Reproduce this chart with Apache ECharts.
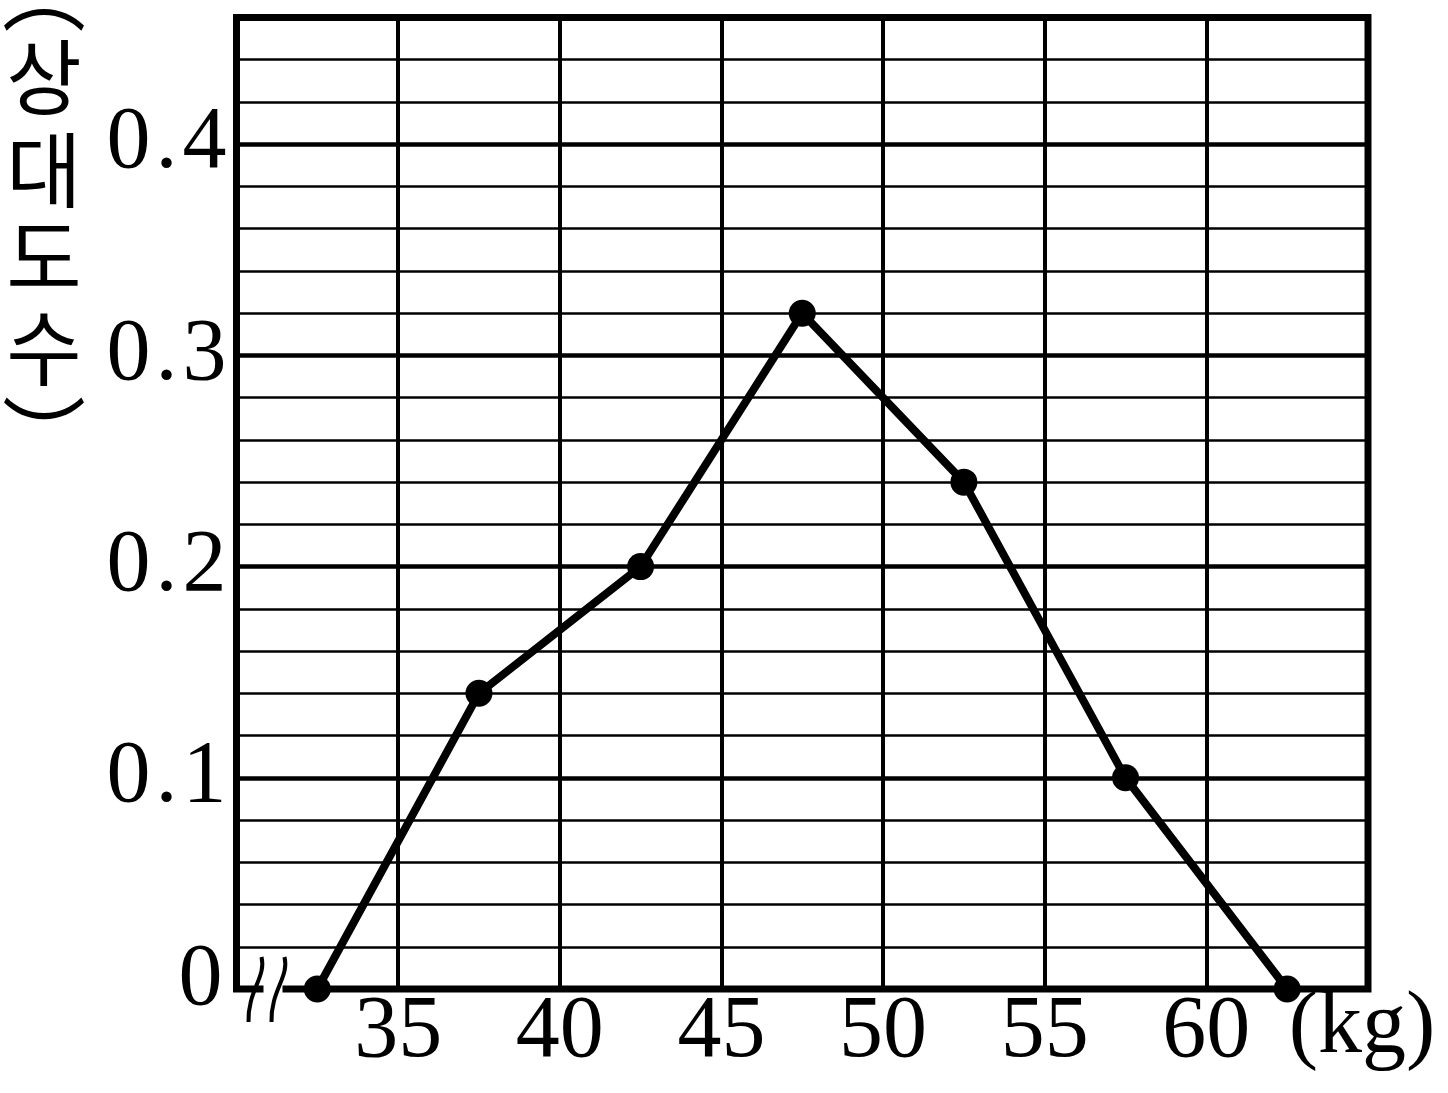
<!DOCTYPE html>
<html><head><meta charset="utf-8">
<style>html,body{margin:0;padding:0;background:#fff}#c{width:1448px;height:1093px}</style>
<script src="https://cdn.jsdelivr.net/npm/echarts@6/dist/echarts.min.js"></script>
</head><body><div id="c"></div>
<script>
// ---- data ----
const classMarks = [32.5, 37.5, 42.5, 47.5, 52.5, 57.5, 62.5];
const relFreq = [0, 0.14, 0.20, 0.32, 0.24, 0.10, 0];
const xTickLabels = [35, 40, 45, 50, 55, 60];
const yTickLabels = ['0', '0.1', '0.2', '0.3', '0.4'];
const yTitleChars = ['︵', '상', '대', '도', '수', '︶'];
const xUnit = '(kg)';

const serif = '"Liberation Serif", "DejaVu Serif", serif';
const cjk = '"Noto Sans CJK KR", "Noto Sans CJK SC", sans-serif';
const chart = echarts.init(document.getElementById('c'), null, { renderer: 'canvas' });

const pts = classMarks.map((x, i) => [x, relFreq[i]]);
const isTenth = v => Math.abs(v * 10 - Math.round(v * 10)) < 1e-6;

const option = {
  animation: false,
  backgroundColor: '#fff',
  grid: {
    left: 236.5, right: 1448 - 1368, top: 17.5, bottom: 1093 - 989,
    show: true, borderColor: '#000', borderWidth: 7, backgroundColor: 'transparent'
  },
  xAxis: {
    type: 'value', min: 30, max: 65, interval: 5,
    axisLine: { show: false }, axisTick: { show: false },
    splitLine: { show: true, lineStyle: { color: '#000', width: 4 } },
    axisLabel: {
      color: '#000', fontFamily: serif, fontSize: 88, margin: 0,
      formatter: v => xTickLabels.includes(v) ? String(v) : ''
    }
  },
  yAxis: [
    {
      type: 'value', min: 0, max: 0.46, interval: 0.1,
      axisLine: { show: false }, axisTick: { show: false },
      splitLine: { show: true, lineStyle: { color: '#000', width: 4.5 } },
      axisLabel: {
        color: '#000', fontFamily: serif, fontSize: 88, margin: 10,
        formatter: v => {
          if (!isTenth(v)) return '';
          const idx = Math.round(v * 10);
          const s = yTickLabels[idx];
          if (s === undefined) return '';
          if (s === '0') return '{z|0}';
          const parts = s.split('.');
          return '{d|' + parts[0] + '}{p|.}{d|' + parts[1] + '}';
        },
        rich: {
          z: { fontFamily: serif, fontSize: 88, color: '#000', padding: [0, 4, 16, 0] },
          d: { fontFamily: serif, fontSize: 88, color: '#000' },
          p: { fontFamily: serif, fontSize: 88, color: '#000', padding: [0, 5, 0, 5] }
        }
      }
    },
    {
      type: 'value', min: 0, max: 0.46, interval: 0.02,
      axisLine: { show: false }, axisTick: { show: false }, axisLabel: { show: false },
      splitLine: { show: true, lineStyle: { color: '#000', width: 2.5 } }
    }
  ],
  series: [{
    type: 'line', data: pts, yAxisIndex: 0, clip: false, z: 10,
    symbol: 'circle', symbolSize: 27,
    lineStyle: { color: '#000', width: 8 },
    itemStyle: { color: '#000' }
  }]
};
chart.setOption(option);

// decorations anchored to axis pixels
const o = chart.convertToPixel({ gridIndex: 0 }, [30, 0]);
const x0 = o[0], y0 = o[1];
const unitPos = chart.convertToPixel({ gridIndex: 0 }, [65, 0]);

function wave(dx) {
  return {
    type: 'bezierCurve', z: 60,
    shape: { x1: x0 + dx + 24, y1: y0 - 32, cpx1: x0 + dx + 29, cpy1: y0 - 12, cpx2: x0 + dx + 10, cpy2: y0 + 2, x2: x0 + dx + 11, y2: y0 + 33 },
    style: { stroke: '#000', lineWidth: 4, fill: null }
  };
}

const graphics = [
  { type: 'rect', z: 55, shape: { x: x0 + 27, y: y0 - 6, width: 19, height: 12 }, style: { fill: '#fff' } },
  wave(1), wave(24),
  {
    type: 'text', z: 60, x: unitPos[0] - 6, y: y0 + 40,
    style: { text: xUnit, font: '88px ' + serif, fill: '#000', align: 'center', verticalAlign: 'middle' }
  }
];
// vertical title: bracket forms are offset inside their em box, so compensate
const titleY = [-8, 77, 170, 257, 348, 436];
yTitleChars.forEach((ch, i) => {
  const isBracket = (i === 0 || i === yTitleChars.length - 1);
  graphics.push({
    type: 'text', z: 60, x: 44, y: titleY[i],
    style: { text: ch, font: (isBracket ? '84px ' : '82px ') + cjk, fill: '#000', align: 'center', verticalAlign: 'middle' }
  });
});
chart.setOption({ graphic: graphics });
</script></body></html>
